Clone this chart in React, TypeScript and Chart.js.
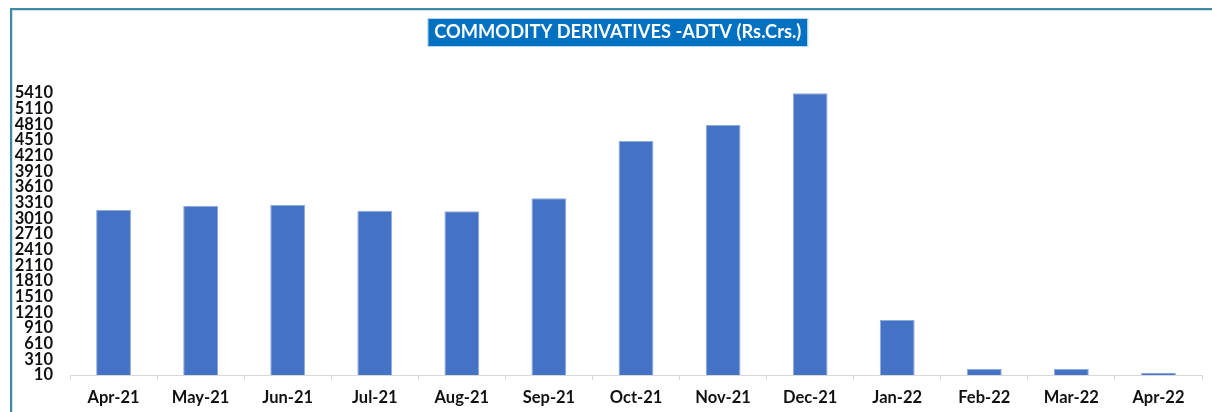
import React, { useEffect, useRef } from "react";
import { Chart, registerables } from "chart.js";

Chart.register(...registerables);

const categories = [
  "Apr-21", "May-21", "Jun-21", "Jul-21", "Aug-21", "Sep-21", "Oct-21",
  "Nov-21", "Dec-21", "Jan-22", "Feb-22", "Mar-22", "Apr-22",
];
const adtvValues = [3170, 3252, 3265, 3156, 3145, 3394, 4491, 4798, 5405, 1063, 125, 125, 54];
const yMin = 10;
const yMax = 5410;
const yStep = 300;
const titleText = "COMMODITY DERIVATIVES -ADTV (Rs.Crs.)";
const titleFont = { family: "Lato", size: 18.3, weight: "bold" as const, lineHeight: 1.2 };

const titleBoxPlugin = {
  id: "titleBox",
  afterLayout(chart: any) {
    const tb = chart.titleBlock;
    if (!tb) return;
    tb.left = 33.6;
    tb.right = 1202;
    tb.width = tb.right - tb.left;
  },
  beforeDraw(chart: any) {
    const tb = chart.titleBlock;
    if (!tb) return;
    const ctx = chart.ctx;
    ctx.save();
    ctx.font = `bold ${titleFont.size}px Lato`;
    const w = ctx.measureText(titleText).width;
    const cx = (tb.left + tb.right) / 2;
    const x = cx - w / 2 - 6;
    const y = 19;
    const bw = w + 12;
    const bh = 27;
    ctx.fillStyle = "#0070C0";
    ctx.fillRect(x, y, bw, bh);
    ctx.strokeStyle = "#BDD7EE";
    ctx.lineWidth = 1;
    ctx.strokeRect(x - 0.5, y - 0.5, bw + 1, bh + 1);
    ctx.restore();
  },
};

export default function App() {
  const ref = useRef<HTMLCanvasElement | null>(null);
  useEffect(() => {
    if (!ref.current) return;
    const chart = new Chart(ref.current, {
      type: "bar",
      data: {
        labels: categories,
        datasets: [
          {
            data: adtvValues,
            backgroundColor: "#4472C4",
            borderColor: "#8FAADC",
            borderWidth: 1,
            barPercentage: 0.4,
            categoryPercentage: 1,
          },
        ],
      },
      plugins: [titleBoxPlugin],
      options: {
        responsive: false,
        animation: false,
        layout: { padding: { left: 0, right: 10, top: 0, bottom: 0 } },
        plugins: {
          legend: { display: false },
          tooltip: { enabled: false },
          title: {
            display: true,
            text: titleText,
            color: "#FFFFFF",
            font: titleFont,
            padding: { top: 21.5, bottom: 49.5 },
          },
        },
        scales: {
          x: {
            offset: true,
            grid: {
              display: true,
              offset: true,
              drawOnChartArea: false,
              drawTicks: true,
              tickLength: 5,
              color: "#D9D9D9",
            },
            border: { display: true, color: "#D9D9D9", width: 1 },
            ticks: {
              color: "#111111",
              font: { family: "Lato", size: 16.5, weight: "bold" },
              padding: 8,
              maxRotation: 0,
              autoSkip: false,
            },
            afterFit: (s: any) => {
              s.height = 37;
            },
          },
          y: {
            min: yMin,
            max: yMax,
            grid: { display: false, drawTicks: false },
            border: { display: false },
            ticks: {
              stepSize: yStep,
              autoSkip: false,
              padding: 17,
              color: "#111111",
              font: { family: "Lato", size: 16.5, weight: "bold", lineHeight: 1 },
              callback: (v: any) => String(v),
            },
            afterFit: (s: any) => {
              s.width = 70;
            },
          },
        },
      },
    });
    return () => chart.destroy();
  }, []);

  return (
    <div
      style={{
        position: "fixed",
        left: 0,
        top: 0,
        width: 1212,
        height: 412,
        background: "#FFFFFF",
        overflow: "hidden",
      }}
    >
      <div
        style={{
          position: "absolute",
          left: 10,
          top: 8,
          width: 1212,
          height: 420,
          borderTop: "2px solid #3B8EA6",
          borderLeft: "2px solid #3B8EA6",
          boxShadow: "inset 1px 1px 0 #D6DCE0",
        }}
      />
      <canvas
        ref={ref}
        width={1212}
        height={412}
        style={{ position: "absolute", left: 0, top: 0, width: 1212, height: 412 }}
      />
    </div>
  );
}
